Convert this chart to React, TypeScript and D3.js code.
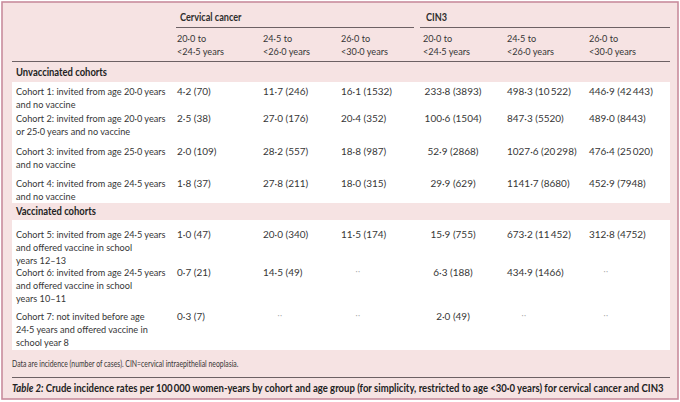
import React from 'react';
import * as d3 from 'd3';

// ---------- data ----------
const groups = ['Cervical cancer', 'CIN3'];
const ageBands = [
  ['20·0 to', '<24·5 years'],
  ['24·5 to', '<26·0 years'],
  ['26·0 to', '<30·0 years'],
];
const sections = ['Unvaccinated cohorts', 'Vaccinated cohorts'];
const cohortLabels = [
  ['Cohort 1: invited from age 20·0 years', 'and no vaccine'],
  ['Cohort 2: invited from age 20·0 years', 'or 25·0 years and no vaccine'],
  ['Cohort 3: invited from age 25·0 years', 'and no vaccine'],
  ['Cohort 4: invited from age 24·5 years', 'and no vaccine'],
  ['Cohort 5: invited from age 24·5 years', 'and offered vaccine in school', 'years 12–13'],
  ['Cohort 6: invited from age 24·5 years', 'and offered vaccine in school', 'years 10–11'],
  ['Cohort 7: not invited before age', '24·5 years and offered vaccine in', 'school year 8'],
];
const cancerRate = [
  [4.2, 11.7, 16.1], [2.5, 27.0, 20.4], [2.0, 28.2, 18.8], [1.8, 27.8, 18.0],
  [1.0, 20.0, 11.5], [0.7, 14.5, null], [0.3, null, null],
];
const cancerCases = [
  [70, 246, 1532], [38, 176, 352], [109, 557, 987], [37, 211, 315],
  [47, 340, 174], [21, 49, null], [7, null, null],
];
const cin3Rate = [
  [233.8, 498.3, 446.9], [100.6, 847.3, 489.0], [52.9, 1027.6, 476.4], [29.9, 1141.7, 452.9],
  [15.9, 673.2, 312.8], [6.3, 434.9, null], [2.0, null, null],
];
const cin3Cases = [
  [3893, 10522, 42443], [1504, 5520, 8443], [2868, 20298, 25020], [629, 8680, 7948],
  [755, 11452, 4752], [188, 1466, null], [49, null, null],
];
const footnote = 'Data are incidence (number of cases). CIN=cervical intraepithelial neoplasia.';
const captionLead = 'Table 2:';
const captionText = 'Crude incidence rates per 100\u2009000 women-years by cohort and age group (for simplicity, restricted to age <30·0 years) for cervical cancer and CIN3';

// ---------- formatting ----------
const fmtRate = (v: number) => d3.format('.1f')(v).replace('.', '·');
const fmtCases = (v: number) => (v >= 10000 ? d3.format(',')(v).replace(/,/g, '\u2009') : String(v));

const FONT = 'Lato, "Open Sans", "DejaVu Sans", sans-serif';
const TEXT = '#363636';
const DARK = '#222222';
const PINK = '#f6e3e3';
const BORDER = '#c98c9d';
const RULE = '#6d6164';
const SX = 0.89;

type CTProps = {
  x: number; y: number; lines: string[]; size: number; weight?: number; fill?: string;
  sx?: number; lh?: number; anchor?: string;
};
function CT({ x, y, lines, size, weight = 400, fill = TEXT, sx = SX, lh = 13, anchor = 'start' }: CTProps) {
  return (
    <text transform={`translate(${x},${y}) scale(${sx},1)`} fontSize={size} fontWeight={weight} fill={fill} textAnchor={anchor}>
      {lines.map((t, i) => (
        <tspan key={i} x={0} y={i * lh}>{t}</tspan>
      ))}
    </text>
  );
}

export default function App() {
  const W = 680, H = 402;
  const left = 12, right = 670, labelX = 16;
  const lineH = 13;
  const base = 3.6; // center -> baseline

  const colX = d3.scaleOrdinal<number, number>().domain(d3.range(6)).range([177, 263, 341, 423, 507, 589]);
  const rowY = d3.scaleOrdinal<number, number>().domain(d3.range(7)).range([91.5, 118.5, 151, 183, 234, 272, 316]);
  const sectionY = d3.scaleOrdinal<number, number>().domain([0, 1]).range([72.5, 211.5]);
  const blocks = [[82, 203], [220, 350]];

  const rows = cohortLabels.map((lab, i) => ({
    i,
    lab,
    cells: [
      ...cancerRate[i].map((r, j) => (r == null ? null : `${fmtRate(r)} (${fmtCases(cancerCases[i][j] as number)})`)),
      ...cin3Rate[i].map((r, j) => (r == null ? null : `${fmtRate(r)} (${fmtCases(cin3Cases[i][j] as number)})`)),
    ],
  }));

  return (
    <svg width={W} height={H} style={{ position: 'absolute', left: 0, top: 0, background: '#fff' }} fontFamily={FONT}>
      <rect x={2} y={2} width={676} height={397} fill={PINK} stroke={BORDER} strokeWidth={1.6} />
      {blocks.map(([y0, y1], k) => (
        <rect key={k} x={left} y={y0} width={right - left} height={y1 - y0} fill="#ffffff" />
      ))}

      {/* group headers */}
      {groups.map((g, k) => (
        <g key={g}>
          <CT x={colX(k * 3) + 3} y={17 + base} lines={[g]} size={10.6} weight={700} fill="#2e2e2e" sx={0.86} />
          <line x1={k === 0 ? 176 : 420} x2={k === 0 ? 414 : right} y1={27.5} y2={27.5} stroke={RULE} strokeWidth={1} />
        </g>
      ))}
      {d3.range(6).map((c) => (
        <CT key={c} x={colX(c)} y={38 + base} lines={ageBands[c % 3]} size={10.3} lh={lineH} />
      ))}
      <line x1={left} x2={right} y1={61.5} y2={61.5} stroke={RULE} strokeWidth={1} />

      {sections.map((s, k) => (
        <CT key={s} x={labelX} y={sectionY(k) + base} lines={[s]} size={10.6} weight={700} fill={DARK} />
      ))}

      {rows.map((r) => (
        <g key={r.i}>
          <CT x={labelX} y={rowY(r.i) + base} lines={r.lab} size={10.3} lh={lineH} />
          {r.cells.map((c, j) =>
            c == null ? (
              <text key={j} x={colX(j) + 17} y={rowY(r.i) + 1.5} fontSize={8} fill="#a8a8a8" textAnchor="middle" letterSpacing={0.5}>··</text>
            ) : (
              <CT key={j} x={j === 3 ? colX(j) + 30 : colX(j)} y={rowY(r.i) + base} lines={[c]} size={10.4} sx={0.96}
                anchor={j === 3 ? 'middle' : 'start'} />
            )
          )}
        </g>
      ))}

      <CT x={left} y={364 + 3} lines={[footnote]} size={8.6} sx={0.8} />
      <line x1={left} x2={right} y1={377.5} y2={377.5} stroke={RULE} strokeWidth={1} />
      <text transform={`translate(${left},${388 + 3.5}) scale(0.9,1)`} fontSize={10.6} fontWeight={700} fill={DARK}>
        <tspan fontStyle="italic">{captionLead}</tspan>
        <tspan> {captionText}</tspan>
      </text>
    </svg>
  );
}
